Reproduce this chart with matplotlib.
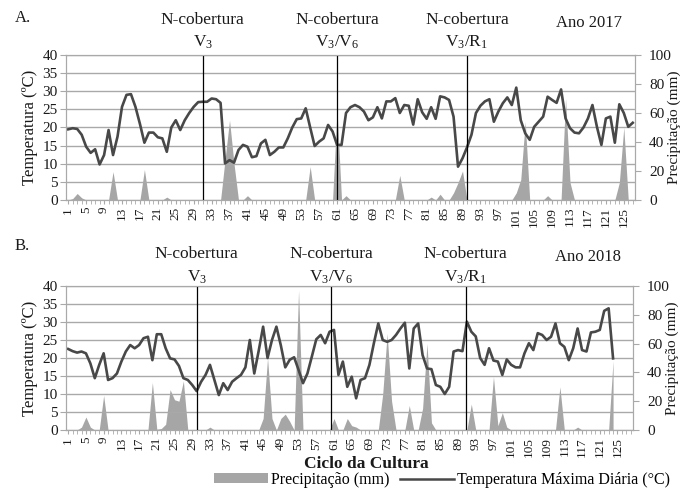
import numpy as np
import matplotlib.pyplot as plt
from matplotlib.lines import Line2D
from matplotlib.patches import Patch

plt.rcParams['font.family'] = ['Liberation Serif', 'DejaVu Serif']
plt.rcParams['mathtext.fontset'] = 'custom'
plt.rcParams['mathtext.rm'] = 'Liberation Serif'
plt.rcParams['mathtext.it'] = 'Liberation Serif:italic'

# ---- data, 2017 (panel A) ----
temp_2017 = [19.5, 19.8, 19.6, 18, 14.7, 13, 14, 9.8, 12.4, 19.3, 12.4, 17.5, 25.7, 29, 29.2, 25.7,
             21, 15.8, 18.6, 18.6, 17.3, 17, 13.3, 20, 22, 19.3, 22, 24, 25.7, 27, 27.1,
             27.1, 28, 27.8, 26.8, 10.1, 11, 10.3, 13.8, 15.2, 14.7, 11.8, 12.1, 15.6, 16.6, 12.4,
             13.3, 14.5, 14.5, 17, 20, 22.3, 22.5, 25.3, 20, 14.9, 16.1, 17, 20.7, 18.9, 15.2, 15.2,
             24, 25.6, 26.2, 25.6, 24.4, 22, 22.8, 25.6, 22.5, 27.2, 27.2, 28.1, 24, 26.2, 26, 20.8,
             27.8, 24.2, 22.4, 25.6, 22.4, 28.6, 28.3, 27.6, 23, 9.2, 11.5, 14.5, 18, 24, 26, 27.2,
             27.8, 21.6, 24.4, 26.7, 28.3, 26.2, 31, 22, 18.4, 16.6, 20.2, 21.6, 23, 28.5, 27.6, 26.8,
             30.5, 22.5, 19.8, 18.6, 18.4, 20, 22.5, 26.2, 20.2, 15.2, 22.5, 23, 15.8, 26.4, 24, 20.2, 21.3]
rain_days_2017 = [2, 3, 4, 11, 18, 23, 36, 37, 38, 41, 55, 61, 63, 75, 82, 84, 87, 88, 89,
                  101, 102, 103, 108, 112, 113, 124, 125]
rain_mm_2017 = [1, 4.5, 1.5, 19.5, 21, 2, 28, 55, 25, 3, 23, 62, 3, 17, 2, 4, 5, 12, 20,
                5, 14, 54, 3, 70, 12, 12, 50]
events_2017 = [31, 61, 90]

# ---- data, 2018 (panel B) ----
temp_2018 = [22.5, 21.9, 21.5, 21.8, 21.3, 18.5, 14.4, 18.1, 21.3, 13.9, 14.4, 15.7, 19, 21.8, 23.6,
             22.7, 23.6, 25.5, 25.9, 19.4, 26.6, 26.6, 22.7, 19.9, 19.6, 17.8, 14.4, 13.9, 12.5, 10.8,
             13.4, 15.3, 18.1, 13.9, 9.7, 13, 11.1, 13.4, 14.4, 15.3, 17.4, 25, 15.7, 22, 28.7, 20,
             25, 28.7, 23.5, 17.4, 19.5, 20.2, 16.7, 13, 15.7, 20.4, 25.2, 26.4, 24.1, 27.3, 27.8,
             15.3, 19, 12, 14.8, 8.8, 13.9, 14.4, 18.1, 24.1, 29.6, 25, 24.5, 25, 26.4, 28.2, 29.8,
             17.1, 28.2, 29.6, 20.8, 17.1, 16.9, 12.5, 12, 10, 12, 21.8, 22.2, 21.9, 30.1, 27.3, 26,
             20, 18.1, 22.7, 19.3, 19, 15.3, 19.6, 18.1, 17.4, 17.4, 21.3, 24.1, 22.2, 26.9, 26.4, 25,
             25.9, 29.6, 24.1, 23.1, 19.4, 22.7, 28.2, 22.2, 21.8, 27.1, 27.3, 27.8, 33.1, 33.8, 19.9]
rain_days_2018 = [4, 5, 6, 9, 20, 21, 22, 23, 24, 25, 26, 27, 33, 45, 46, 47, 49, 50, 51, 53,
                  61, 64, 65, 66, 72, 73, 74, 78, 81, 82, 83, 92, 97, 98, 99, 100, 112, 116, 124]
rain_mm_2018 = [2, 9, 2, 24, 33, 0.5, 1, 4, 28, 21, 20, 34, 2, 8, 50, 8, 8, 11, 6, 97,
                8, 8, 3, 2, 25, 67, 20, 17, 15, 60, 5, 18, 37, 3, 12, 2, 30, 2, 48]
events_2018 = [30, 60.4, 90.7]

stage_labels = ["V$_3$", "V$_3$/V$_6$", "V$_3$/R$_1$"]
x_ticks = list(range(1, 126, 4))

rain_col = '#a6a6a6'
line_col = '#484848'
grid_col = '#a9a9a9'
txt_col = '#1a1a1a'


def draw_panel(ax, temps, rain_days, rain_mm, n_slots, events, year, lab_y):
    days = np.arange(1, len(temps) + 1)
    rain = np.zeros(len(temps))
    rain[np.array(rain_days) - 1] = rain_mm

    ax2 = ax.twinx()
    ax2.fill_between(days, rain, color=rain_col, lw=0)
    ax2.set_ylim(0, 100)
    ax2.set_yticks(range(0, 101, 20))
    ax2.set_ylabel('Precipitação (mm)', fontsize=11, color=txt_col)
    ax2.yaxis.set_label_coords(1.058, 0.5)

    ax.set_zorder(ax2.get_zorder() + 1)
    ax.patch.set_visible(False)
    ax.plot(days, temps, color=line_col, lw=1.9)
    for e in events:
        ax.axvline(e, color='black', lw=0.9)

    ax.set_xlim(0.5, n_slots + 0.5)
    ax.set_ylim(0, 40)
    ax.set_yticks(range(0, 41, 5))
    ax.yaxis.grid(True, color=grid_col, lw=1)
    ax.set_axisbelow(True)
    ax.set_xticks(x_ticks)
    ax.set_xticklabels([str(t) for t in x_ticks], rotation=90, fontsize=9.5, color=txt_col)
    ax.set_xticks(np.arange(1, n_slots + 1), minor=True)
    ax.tick_params(axis='x', which='both', length=3, color=grid_col, pad=2)
    ax.tick_params(axis='y', length=4, color=grid_col, labelsize=11, labelcolor=txt_col, pad=2)
    ax2.tick_params(axis='y', length=4, color=grid_col, labelsize=11, labelcolor=txt_col, pad=6)
    ax.set_ylabel('Temperatura (ºC)', fontsize=12, color=txt_col, labelpad=3)
    for a in (ax, ax2):
        for s in a.spines.values():
            s.set_color(grid_col)

    trans = ax.get_xaxis_transform()
    for e, lab in zip(events, stage_labels):
        ax.text(e, lab_y[0], 'N-cobertura', transform=trans, ha='center', va='center',
                fontsize=12.5, color=txt_col)
        ax.text(e, lab_y[1], lab, transform=trans, ha='center', va='center',
                fontsize=12.5, color=txt_col)
    ax.text(0.92, lab_y[0] - 0.02, 'Ano %d' % year, transform=ax.transAxes, ha='center',
            va='center', fontsize=12, color=txt_col)


fig = plt.figure(figsize=(6.87, 4.90), dpi=100)
axA = fig.add_axes([66 / 687, 1 - 200 / 490, 569 / 687, 145 / 490])
axB = fig.add_axes([66 / 687, 1 - 430 / 490, 567 / 687, 144 / 490])

draw_panel(axA, temp_2017, rain_days_2017, rain_mm_2017, 127, events_2017, 2017, (1.24, 1.09))
draw_panel(axB, temp_2018, rain_days_2018, rain_mm_2018, 128, events_2018, 2018, (1.22, 1.06))

fig.text(15 / 687, 1 - 18 / 490, 'A.', fontsize=12, va='center', color=txt_col)
fig.text(15 / 687, 1 - 246 / 490, 'B.', fontsize=12, va='center', color=txt_col)
fig.text(366 / 687, 1 - 464 / 490, 'Ciclo da Cultura', fontsize=12.5, weight='bold',
         ha='center', va='center', color=txt_col)

handles = [Patch(facecolor=rain_col, edgecolor='none'),
           Line2D([], [], color=line_col, lw=1.8)]
fig.legend(handles, ['Precipitação (mm)', 'Temperatura Máxima Diária (°C)'],
           loc='center', bbox_to_anchor=(442 / 687, 1 - 480 / 490), ncol=2, frameon=False,
           fontsize=11.5, handlelength=3.4, handleheight=0.6, handletextpad=0.2,
           columnspacing=0.6, borderaxespad=0, borderpad=0)

fig.savefig('out.png', dpi=100)
